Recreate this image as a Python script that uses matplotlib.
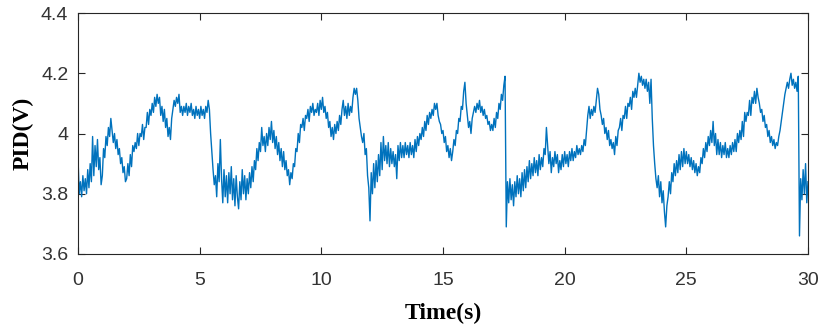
import numpy as np
import matplotlib
matplotlib.use("Agg")
import matplotlib.pyplot as plt

# time axis: 0..30 s, sampled every 0.05 s (one row = one second)
t_start, t_end = 0.0, 30.0

pid_rows = [
    [3.92, 3.80, 3.84, 3.79, 3.86, 3.81, 3.85, 3.80, 3.88, 3.82, 3.90, 3.84, 3.99, 3.86, 3.96, 3.89, 3.98, 3.88, 3.92, 3.83],
    [3.86, 3.95, 3.92, 3.99, 3.96, 4.02, 3.99, 4.05, 4.01, 3.97, 4.00, 3.95, 3.98, 3.93, 3.95, 3.90, 3.92, 3.87, 3.89, 3.84],
    [3.85, 3.90, 3.86, 3.93, 3.89, 3.96, 3.94, 3.97, 3.95, 4.00, 3.96, 4.00, 3.99, 4.03, 3.98, 4.02, 4.02, 4.07, 4.03, 4.08],
    [4.06, 4.10, 4.07, 4.12, 4.09, 4.13, 4.10, 4.12, 4.06, 4.09, 4.04, 4.08, 4.02, 4.05, 3.99, 4.02, 3.98, 4.05, 4.08, 4.11],
    [4.09, 4.12, 4.10, 4.13, 4.07, 4.09, 4.06, 4.09, 4.07, 4.10, 4.06, 4.09, 4.07, 4.10, 4.06, 4.08, 4.05, 4.09, 4.06, 4.08],
    [4.05, 4.09, 4.06, 4.08, 4.05, 4.09, 4.07, 4.11, 4.08, 4.00, 3.94, 3.88, 3.83, 3.86, 3.79, 3.90, 3.84, 3.98, 3.85, 3.77],
    [3.88, 3.79, 3.86, 3.77, 3.87, 3.80, 3.89, 3.78, 3.85, 3.76, 3.86, 3.79, 3.75, 3.84, 3.78, 3.88, 3.80, 3.86, 3.78, 3.85],
    [3.80, 3.87, 3.82, 3.89, 3.84, 3.91, 3.88, 3.95, 3.91, 3.97, 3.94, 4.02, 3.96, 3.99, 3.94, 4.00, 3.96, 4.02, 3.98, 4.04],
    [3.97, 4.01, 3.95, 3.99, 3.93, 3.97, 3.91, 3.95, 3.89, 3.94, 3.88, 3.91, 3.86, 3.88, 3.83, 3.87, 3.85, 3.90, 3.89, 3.95],
    [3.94, 4.00, 3.97, 4.03, 4.02, 4.05, 4.01, 4.06, 4.05, 4.08, 4.04, 4.09, 4.07, 4.10, 4.06, 4.08, 4.07, 4.10, 4.06, 4.11],
    [4.08, 4.12, 4.07, 4.09, 4.05, 4.07, 4.02, 4.04, 3.99, 4.02, 3.98, 4.03, 4.00, 4.04, 4.01, 4.06, 4.03, 4.08, 4.11, 4.06],
    [4.09, 4.05, 4.10, 4.06, 4.09, 4.07, 4.12, 4.15, 4.13, 4.15, 4.11, 4.05, 4.02, 3.99, 3.97, 4.00, 3.93, 3.95, 3.86, 3.82],
    [3.71, 3.87, 3.80, 3.90, 3.82, 3.91, 3.84, 3.93, 3.86, 3.97, 3.88, 3.99, 3.91, 3.96, 3.90, 3.97, 3.89, 3.95, 3.90, 3.94],
    [3.89, 3.93, 3.85, 3.96, 3.91, 3.97, 3.92, 3.96, 3.92, 3.97, 3.93, 3.96, 3.92, 3.97, 3.93, 3.96, 3.92, 3.98, 3.94, 3.99],
    [3.96, 4.00, 3.98, 4.02, 3.99, 4.04, 4.01, 4.06, 4.03, 4.07, 4.05, 4.08, 4.06, 4.10, 4.08, 4.10, 4.06, 4.04, 4.03, 4.00],
    [4.01, 3.97, 3.99, 3.94, 3.96, 3.92, 3.95, 3.91, 3.94, 3.98, 3.96, 4.01, 4.00, 4.05, 4.04, 4.09, 4.08, 4.14, 4.17, 4.10],
    [4.06, 4.02, 4.04, 4.00, 4.05, 4.07, 4.09, 4.07, 4.10, 4.08, 4.11, 4.07, 4.09, 4.06, 4.08, 4.05, 4.06, 4.03, 4.04, 4.01],
    [4.03, 4.01, 4.05, 4.02, 4.07, 4.05, 4.10, 4.08, 4.13, 4.11, 4.16, 4.19, 3.69, 3.84, 3.77, 3.85, 3.78, 3.83, 3.76, 3.84],
    [3.79, 3.86, 3.80, 3.85, 3.79, 3.87, 3.81, 3.88, 3.82, 3.89, 3.84, 3.91, 3.85, 3.90, 3.86, 3.92, 3.87, 3.91, 3.86, 3.93],
    [3.88, 3.92, 3.89, 3.95, 3.93, 4.02, 3.96, 3.90, 3.94, 3.87, 3.92, 3.89, 3.94, 3.90, 3.93, 3.87, 3.91, 3.88, 3.93, 3.89],
    [3.94, 3.90, 3.93, 3.89, 3.94, 3.91, 3.95, 3.91, 3.94, 3.92, 3.96, 3.93, 3.95, 3.93, 3.96, 3.94, 3.98, 3.96, 4.01, 4.06],
    [4.09, 4.05, 4.08, 4.06, 4.09, 4.07, 4.11, 4.15, 4.13, 4.08, 4.06, 4.03, 4.05, 4.00, 4.02, 3.98, 4.01, 3.96, 3.98, 3.95],
    [3.97, 3.93, 3.99, 3.96, 4.01, 4.02, 4.05, 4.01, 4.06, 4.05, 4.09, 4.05, 4.10, 4.09, 4.12, 4.08, 4.14, 4.12, 4.15, 4.12],
    [4.16, 4.20, 4.17, 4.19, 4.16, 4.18, 4.15, 4.18, 4.14, 4.17, 4.10, 4.18, 4.05, 3.96, 3.90, 3.85, 3.82, 3.86, 3.79, 3.84],
    [3.77, 3.81, 3.74, 3.69, 3.76, 3.79, 3.84, 3.80, 3.87, 3.84, 3.90, 3.86, 3.91, 3.87, 3.93, 3.88, 3.94, 3.89, 3.95, 3.90],
    [3.94, 3.90, 3.93, 3.89, 3.92, 3.88, 3.91, 3.87, 3.90, 3.86, 3.89, 3.87, 3.92, 3.90, 3.95, 3.92, 3.97, 3.94, 3.99, 3.96],
    [4.01, 3.97, 4.04, 3.96, 4.00, 3.93, 3.98, 3.93, 3.97, 3.92, 3.96, 3.93, 3.97, 3.92, 3.95, 3.92, 3.96, 3.93, 3.97, 3.94],
    [3.98, 3.94, 4.00, 3.97, 4.01, 3.98, 4.04, 3.99, 4.07, 4.04, 4.07, 4.06, 4.11, 4.06, 4.12, 4.10, 4.14, 4.10, 4.15, 4.12],
    [4.10, 4.07, 4.08, 4.04, 4.06, 4.02, 4.03, 3.99, 4.01, 3.97, 3.99, 3.96, 3.98, 3.95, 3.97, 3.96, 3.99, 4.01, 4.04, 4.07],
    [4.10, 4.13, 4.15, 4.17, 4.15, 4.18, 4.20, 4.16, 4.18, 4.15, 4.17, 4.14, 4.19, 3.66, 3.85, 3.78, 3.88, 3.80, 3.90, 3.77],
    [3.84],
]

pid = [v for row in pid_rows for v in row]
time = np.linspace(t_start, t_end, len(pid))

x_ticks = [0, 5, 10, 15, 20, 25, 30]
y_ticks = [3.6, 3.8, 4.0, 4.2, 4.4]
y_tick_labels = ["3.6", "3.8", "4", "4.2", "4.4"]

fig = plt.figure(figsize=(8.25, 3.32), dpi=100)
ax = fig.add_axes([78 / 825, 1 - 254 / 332, (808 - 78) / 825, (254 - 13) / 332])

ax.plot(time, pid, color="#0072BD", linewidth=1.0)

ax.set_xlim(0, 30)
ax.set_ylim(3.6, 4.4)
ax.set_xticks(x_ticks)
ax.set_yticks(y_ticks)
ax.set_yticklabels(y_tick_labels)

edge = "#262626"
for s in ax.spines.values():
    s.set_color(edge)
    s.set_linewidth(0.8)
ax.tick_params(direction="in", length=5, width=0.8, colors=edge,
               top=True, right=True, labelsize=14)
ax.tick_params(axis="x", pad=13)
ax.tick_params(axis="y", pad=7)
for lab in ax.get_xticklabels() + ax.get_yticklabels():
    lab.set_fontfamily("Liberation Sans")
    lab.set_color("#333333")

ax.set_xlabel("Time(s)", fontfamily="Liberation Serif", fontweight="bold",
              fontsize=17, labelpad=10)
ax.set_ylabel("PID(V)", fontfamily="Liberation Serif", fontweight="bold",
              fontsize=17, labelpad=5)

fig.savefig("out.png", dpi=100)
